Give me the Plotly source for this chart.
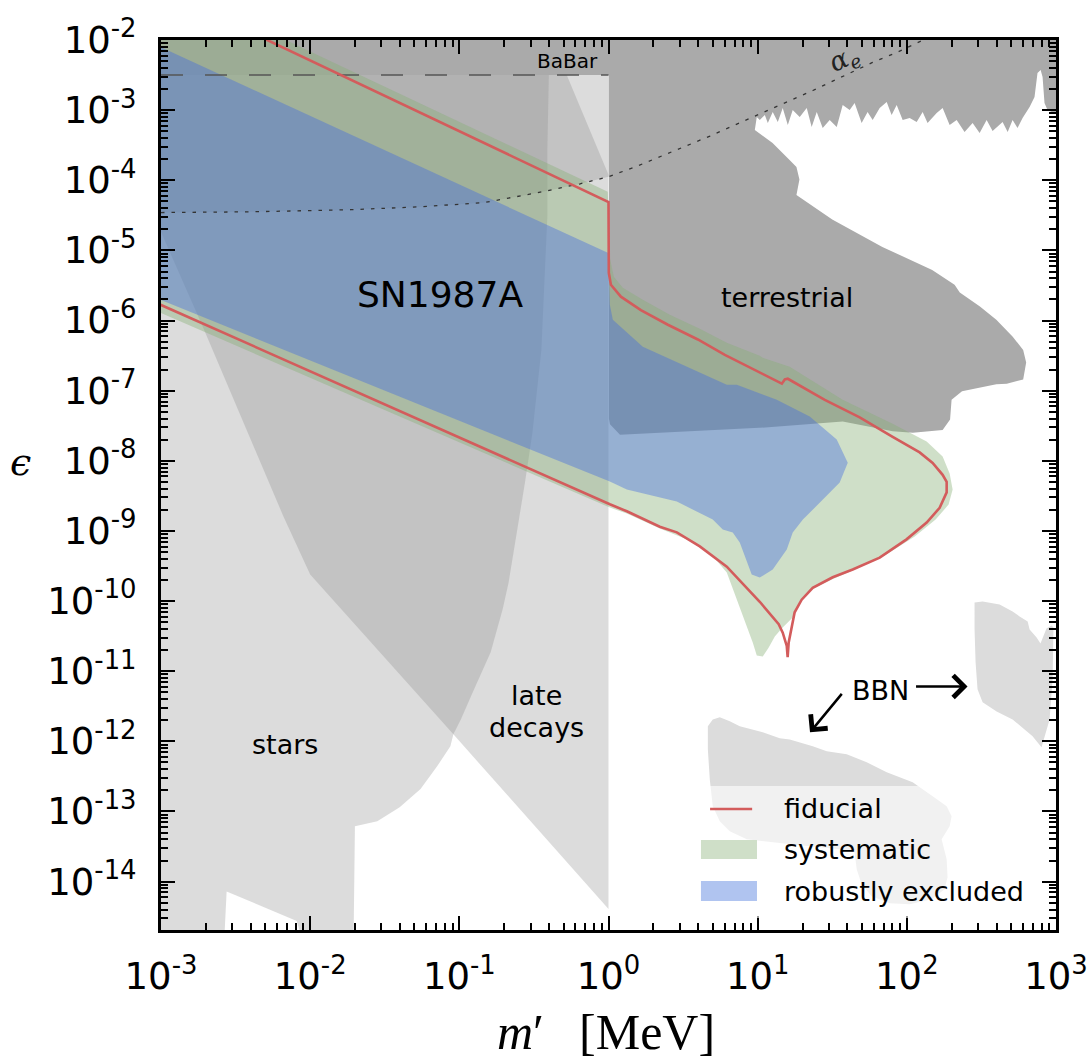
import numpy as np
import plotly.graph_objects as go

# ---------------- data (log10 of m' [MeV] and log10 of epsilon) ----------------
X_TICK_EXP = [-3, -2, -1, 0, 1, 2, 3]
Y_TICK_EXP = [-2, -3, -4, -5, -6, -7, -8, -9, -10, -11, -12, -13, -14]

# region above the alpha_e line (dotted line itself)
AE_LOGM = [-3.2, -3.0, -2.40, -1.73, -1.28, -0.84, -0.48, -0.19, 0.0, 0.19, 0.50, 0.68, 0.88, 1.00, 1.17, 1.37, 1.55, 1.77, 1.93, 2.04, 2.11]
AE_LOGE = [-4.46, -4.46, -4.45, -4.42, -4.38, -4.32, -4.18, -4.05, -3.95, -3.80, -3.53, -3.37, -3.18, -3.07, -2.91, -2.72, -2.54, -2.32, -2.18, -2.07, -2.0]

# late decays
LATE_LOGM = [-3.45, -0.28, 0.0, 0.0, -1.04, -2.00, -2.18, -2.40, -2.72, -2.985]
LATE_LOGE = [-2.5, -2.5, -3.92, -14.39, -11.90, -9.62, -8.79, -7.70, -6.09, -4.81]

# stars
STARS_LOGM = [-3.2, -0.40, -0.41, -0.41, -0.45, -0.51, -0.56, -0.67, -0.71, -0.79, -0.91, -0.99, -1.04,
              -1.06, -1.15, -1.26, -1.40, -1.55, -1.70, -1.71, -2.03, -2.09, -2.56, -2.58, -3.2]
STARS_LOGE = [-2.5, -2.5, -3.57, -4.52, -6.42, -7.60, -8.31, -9.74, -10.12, -10.73, -11.30, -11.69, -11.90,
              -12.07, -12.36, -12.68, -12.94, -13.14, -13.21, -15.0, -15.0, -14.56, -14.14, -15.0, -15.0]

# BaBar
BABAR_LOGM = [-3.2, 0.01, 0.01, -3.2]
BABAR_LOGE = [-2.5, -2.5, -1.8, -1.8]

# terrestrial
TERR_LOGM = [0.003, 3.1, 3.1,
             2.970, 2.943, 2.923, 2.910, 2.897, 2.876, 2.856, 2.823, 2.776, 2.742, 2.709, 2.676, 2.642,
             2.575, 2.535, 2.488, 2.441, 2.387, 2.334, 2.287, 2.240, 2.200, 2.139, 2.106, 2.066, 2.019,
             1.972, 1.932, 1.898, 1.865, 1.818, 1.771, 1.737, 1.697, 1.650, 1.617, 1.570, 1.530, 1.483,
             1.436, 1.396, 1.362, 1.329, 1.282, 1.235, 1.202, 1.168, 1.135, 1.101, 1.068, 1.048, 1.014,
             0.994, 0.981,
             1.10, 1.214, 1.26, 1.28, 1.26, 1.50, 1.836, 2.17, 2.27, 2.32, 2.355, 2.49, 2.60, 2.71, 2.78,
             2.80, 2.78, 2.67, 2.60, 2.49, 2.37, 2.30, 2.29, 2.24, 2.04, 1.905, 1.57, 1.01, 0.345, 0.077,
             0.01, 0.003]
TERR_LOGE = [-1.8, -1.8, -3.03,
             -3.026, -2.997, -2.897, -2.527, -2.427, -2.470, -2.812, -2.954, -3.111, -3.254, -3.140, -3.311, -3.168,
             -3.296, -3.140, -3.325, -3.182, -3.311, -3.140, -3.211, -2.969, -3.040, -3.182, -3.026, -3.168, -3.111,
             -3.140, -2.926, -3.068, -2.883, -2.969, -3.140, -3.026, -3.182, -2.897, -2.997, -2.926, -3.239, -3.140,
             -3.254, -3.026, -3.239, -2.969, -3.097, -2.997, -3.211, -2.969, -3.168, -3.026, -3.182, -3.068, -3.140,
             -3.097, -3.282,
             -3.47, -3.71, -3.81, -3.99, -4.21, -4.56, -4.95, -5.28, -5.42, -5.49, -5.60, -5.80, -5.99, -6.23, -6.42,
             -6.60, -6.84, -6.90, -6.91, -6.96, -7.01, -7.13, -7.41, -7.56, -7.60, -7.58, -7.44, -7.53, -7.60, -7.63,
             -7.48, -7.40]

# BBN islands
BBN_L_LOGM = [0.666, 0.699, 0.746, 0.813, 0.880, 1.034, 1.148, 1.215, 1.369, 1.463, 1.597, 1.731, 1.865, 2.039,
              2.173, 2.267, 2.300, 2.287, 2.233, 2.267, 2.273, 2.253, 2.166, 2.019, 1.885, 1.764, 1.697, 1.664,
              1.650, 1.550, 1.282, 1.081, 0.927, 0.813, 0.746, 0.699, 0.679, 0.666]
BBN_L_LOGE = [-11.786, -11.687, -11.658, -11.715, -11.786, -11.872, -11.957, -11.972, -12.071, -12.142, -12.185,
              -12.299, -12.442, -12.584, -12.784, -12.926, -13.068, -13.211, -13.396, -13.681, -13.937, -14.108,
              -14.251, -14.322, -14.308, -14.208, -14.037, -13.823, -13.581, -13.538, -13.481, -13.439, -13.396,
              -13.282, -13.140, -12.926, -12.541, -12.114]
BBN_R_LOGM = [2.454, 2.508, 2.622, 2.709, 2.756, 2.810, 2.823, 2.870, 2.896, 2.916, 2.936, 2.970, 2.983, 2.977,
              2.957, 2.903, 2.843, 2.709, 2.602, 2.508, 2.474, 2.461, 2.454]
BBN_R_LOGE = [-10.020, -10.006, -10.048, -10.148, -10.219, -10.291, -10.405, -10.519, -10.604, -10.504, -10.390,
              -10.348, -10.376, -11.117, -11.687, -12.085, -11.929, -11.687, -11.573, -11.444, -11.259, -10.875,
              -10.405]

# SN1987A: systematic band
GREEN_LOGM = [-3.407, -2.40, -0.005, 0.009, 0.036, 0.096, 0.230, 0.411, 0.612, 0.793, 1.014, 1.034, 1.215, 1.570,
              1.905, 2.133, 2.240, 2.287, 2.307, 2.280, 2.193, 2.053, 1.852, 1.651, 1.497, 1.363, 1.282, 1.235,
              1.161, 1.115, 1.074, 1.034, 0.994, 0.967, 0.880, 0.793, 0.679, 0.545, 0.344, 0.123, 0.009, -3.005,
              -3.407]
GREEN_LOGE = [-0.753, -1.763, -4.165, -5.105, -5.376, -5.533, -5.704, -5.917, -6.117, -6.316, -6.501, -6.530,
              -6.658, -7.128, -7.470, -7.726, -7.940, -8.182, -8.410, -8.624, -8.838, -9.080, -9.350, -9.550,
              -9.692, -9.835, -10.006, -10.234, -10.390, -10.504, -10.661, -10.789, -10.775, -10.590, -10.077,
              -9.593, -9.308, -9.137, -8.966, -8.752, -8.667, -5.889, -5.519]

# SN1987A: robustly excluded
BLUE_LOGM = [-3.407, -3.005, -0.005, 0.0, 0.009, 0.029, 0.230, 0.565, 0.793, 0.860, 1.128, 1.349, 1.530, 1.604,
             1.550, 1.437, 1.303, 1.235, 1.195, 1.101, 1.014, 0.960, 0.880, 0.833, 0.766, 0.699, 0.458, 0.123,
             0.009, -3.005, -3.407]
BLUE_LOGE = [-1.701, -2.100, -5.034, -5.034, -5.775, -5.989, -6.373, -6.701, -6.915, -6.915, -7.128, -7.370,
             -7.698, -8.026, -8.311, -8.553, -8.838, -9.023, -9.265, -9.550, -9.664, -9.621, -9.165, -9.023,
             -8.980, -8.838, -8.581, -8.410, -8.296, -5.704, -5.348]

# SN1987A: fiducial
RED_LOGM = [-2.6, 0.0, 0.002, 0.016, 0.083, 0.217, 0.398, 0.599, 0.780, 1.001, 1.162, 1.182, 1.202, 1.450, 1.684,
            1.905, 2.086, 2.173, 2.240, 2.267, 2.267, 2.220, 2.133, 1.998, 1.818, 1.637, 1.503, 1.369, 1.295,
            1.248, 1.228, 1.208, 1.201, 1.195, 1.168, 1.141, 1.014, 0.793, 0.612, 0.458, 0.344, 0.123, 0.009, -3.2]
RED_LOGE = [-1.686, -4.31, -5.32, -5.49, -5.66, -5.85, -6.06, -6.27, -6.49, -6.73, -6.90, -6.84, -6.83, -7.13,
            -7.38, -7.66, -7.88, -8.03, -8.20, -8.30, -8.45, -8.67, -8.88, -9.12, -9.38, -9.55, -9.66, -9.81,
            -9.98, -10.16, -10.36, -10.59, -10.80, -10.64, -10.45, -10.33, -10.01, -9.51, -9.22, -9.02, -8.94,
            -8.72, -8.62, -5.59]

BABAR_LINE_LOGM = [-3.0, 0.0]
BABAR_LINE_LOGE = [-2.5, -2.5]

# ---------------- colours ----------------
LIGHT = "rgba(140,140,140,0.30)"
DARK = "#aaaaaa"
BBN_COL = "#dcdcdc"
GREEN = "rgba(135,175,117,0.40)"
BLUE = "rgba(65,105,225,0.40)"
RED = "#d35c5c"

fig = go.Figure()


def region(lm, le, color):
    fig.add_trace(go.Scatter(
        x=10 ** np.array(lm), y=10 ** np.array(le), mode="lines", fill="toself",
        fillcolor=color, line=dict(width=0, color="rgba(0,0,0,0)"),
        hoverinfo="skip", showlegend=False))


region(AE_LOGM[1:] + [0.0, -3.2, -3.2], AE_LOGE[1:] + [-2.5, -2.5, AE_LOGE[0]], LIGHT)
region(LATE_LOGM, LATE_LOGE, LIGHT)
region(STARS_LOGM, STARS_LOGE, LIGHT)
region(BABAR_LOGM, BABAR_LOGE, DARK)
region(TERR_LOGM, TERR_LOGE, DARK)
region(BBN_L_LOGM, BBN_L_LOGE, BBN_COL)
region(BBN_R_LOGM, BBN_R_LOGE, BBN_COL)
region(GREEN_LOGM, GREEN_LOGE, GREEN)
region(BLUE_LOGM, BLUE_LOGE, BLUE)

fig.add_trace(go.Scatter(x=10 ** np.array(BABAR_LINE_LOGM), y=10 ** np.array(BABAR_LINE_LOGE), mode="lines",
                         line=dict(color="#555555", width=1.6, dash="22px,22px"),
                         hoverinfo="skip", showlegend=False))
fig.add_trace(go.Scatter(x=10 ** np.array(AE_LOGM[1:]), y=10 ** np.array(AE_LOGE[1:]), mode="lines",
                         line=dict(color="#333333", width=1.3, dash="3.5px,7px"),
                         hoverinfo="skip", showlegend=False))
fig.add_trace(go.Scatter(x=10 ** np.array(RED_LOGM), y=10 ** np.array(RED_LOGE), mode="lines",
                         line=dict(color=RED, width=2.6), hoverinfo="skip", showlegend=False))

# ---------------- axes ----------------
tickfont = dict(family="DejaVu Sans", size=37, color="black")
x_minor = [k * 10.0 ** d for d in range(-3, 3) for k in range(2, 10)]
y_minor = [k * 10.0 ** d for d in range(-15, -2) for k in range(2, 10)]

common = dict(type="log", showgrid=False, zeroline=False, showline=True, linewidth=3, linecolor="black",
              mirror="allticks", ticks="inside", ticklen=14, tickwidth=2, tickcolor="black",
              tickfont=tickfont, tickmode="array", automargin=False)

fig.update_xaxes(range=[-3, 3], tickvals=[10.0 ** e for e in X_TICK_EXP],
                 ticktext=["10<sup>%d</sup>" % e for e in X_TICK_EXP],
                 minor=dict(tickmode="array", tickvals=x_minor, ticks="inside", ticklen=7, tickwidth=1.5,
                            tickcolor="black", showgrid=False),
                 ticklabelstandoff=12, **common)
fig.update_yaxes(range=[-14.69, -2.0], tickvals=[10.0 ** e for e in Y_TICK_EXP],
                 ticktext=["10<sup>%d</sup>" % e for e in Y_TICK_EXP],
                 minor=dict(tickmode="array", tickvals=y_minor, ticks="inside", ticklen=7, tickwidth=1.5,
                            tickcolor="black", showgrid=False),
                 ticklabelstandoff=14, **common)

# ---------------- text ----------------
ann = []


def label(x, y, text, size=27, **kw):
    d = dict(x=x, y=y, xref="x", yref="y", text=text, showarrow=False,
             font=dict(family="DejaVu Sans", size=size, color="black"), xanchor="center", yanchor="middle")
    d.update(kw)
    ann.append(d)


label(-1.129, -5.632, "SN1987A", size=36)
label(1.198, -5.675, "terrestrial", size=27)
label(-2.167, -12.04, "stars", size=27)
label(-0.480, -11.345, "late", size=27)
label(-0.486, -11.80, "decays", size=27)
label(1.825, -11.274, "BBN", size=27)
label(-0.272, -2.299, "BaBar", size=20)
label(1.583, -2.285, "<i>α<sub>e</sub></i>", size=27, textangle=-25,
      font=dict(family="DejaVu Serif", size=27, color="#222222"))

# BBN arrows
ann.append(dict(x=1.351, y=-11.872, xref="x", yref="y", text="", showarrow=True, ax=33, ay=-40,
                axref="pixel", ayref="pixel", arrowhead=4, arrowsize=1.7, arrowwidth=2.5, arrowcolor="black"))
ann.append(dict(x=2.407, y=-11.217, xref="x", yref="y", text="", showarrow=True, ax=-53, ay=0,
                axref="pixel", ayref="pixel", arrowhead=4, arrowsize=1.7, arrowwidth=2.5, arrowcolor="black"))

# axis titles
ann.append(dict(x=0.4968, y=-0.1146, xref="paper", yref="paper", showarrow=False,
                text="<i>m</i>′\u2002\u2009[MeV]", xanchor="center", yanchor="middle",
                font=dict(family="Liberation Serif", size=50, color="black")))
ann.append(dict(x=-0.157, y=0.526, xref="paper", yref="paper", showarrow=False,
                text="<i>ϵ</i>", xanchor="center", yanchor="middle",
                font=dict(family="DejaVu Serif", size=38, color="black")))

# ---------------- legend (drawn manually) ----------------
LEGEND_LABELS = ["fiducial", "systematic", "robustly excluded"]
shapes = [
    dict(type="rect", xref="paper", yref="paper", x0=0.5954, x1=0.9843, y0=0.0135, y1=0.1618,
         fillcolor="rgba(255,255,255,0.6)", line=dict(width=0), layer="above"),
    dict(type="line", xref="paper", yref="paper", x0=0.6135, x1=0.6605, y0=0.1360, y1=0.1360,
         line=dict(color=RED, width=2.6), layer="above"),
    dict(type="rect", xref="paper", yref="paper", x0=0.6033, x1=0.6659, y0=0.0798, y1=0.1011,
         fillcolor="#cfdfc8", line=dict(width=0), layer="above"),
    dict(type="rect", xref="paper", yref="paper", x0=0.6033, x1=0.6659, y0=0.0326, y1=0.0551,
         fillcolor="#b0c4f0", line=dict(width=0), layer="above"),
]
for txt, yp in zip(LEGEND_LABELS, [0.1360, 0.0899, 0.0438]):
    ann.append(dict(x=0.6940, y=yp, xref="paper", yref="paper", text=txt, showarrow=False,
                    xanchor="left", yanchor="middle",
                    font=dict(family="DejaVu Sans", size=27, color="black")))

fig.update_layout(width=1091, height=1059, margin=dict(l=161, r=35, t=40, b=129, autoexpand=False),
                  plot_bgcolor="white", paper_bgcolor="white", showlegend=False,
                  annotations=ann, shapes=shapes)

fig.write_html("out.html", config={"displayModeBar": False},
               post_script="document.body.style.margin='0px';")
